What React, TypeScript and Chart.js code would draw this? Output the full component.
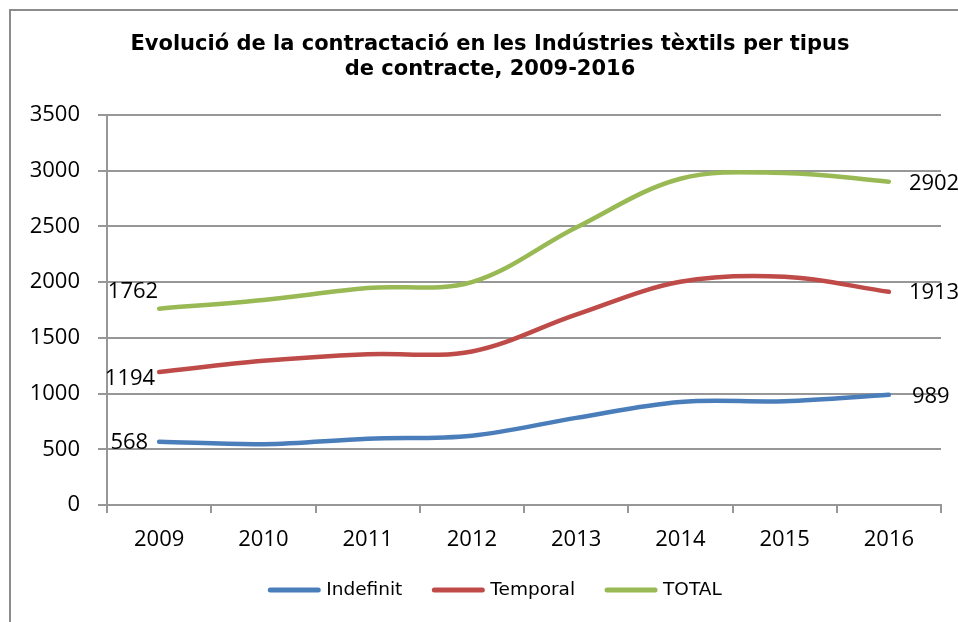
import React, { useEffect, useRef } from "react";
import { Chart, registerables } from "chart.js";

Chart.register(...registerables);

const categories = ["2009", "2010", "2011", "2012", "2013", "2014", "2015", "2016"];
const indefinit = [568, 546, 595, 622, 782, 925, 932, 989];
const temporal = [1194, 1294, 1353, 1378, 1708, 2003, 2048, 1913];
const total = [1762, 1840, 1948, 2000, 2490, 2928, 2980, 2902];
const seriesNames = ["Indefinit", "Temporal", "TOTAL"];
const seriesColors = ["#4A7EBB", "#BE4B48", "#98B954"];
const titleLines = [
  "Evolució de la contractació en les Indústries tèxtils per tipus",
  "de contracte, 2009-2016",
];
const yMin = 0;
const yMax = 3500;
const yStep = 500;

// label placement (style only): [startDx, startDy, endDx, endDy] per series
const labelOffsets = [
  [-11, 1, 23, 2],
  [-4, 7, 20, 1],
  [-1, -17, 20, 2],
];

const endLabelsPlugin = {
  id: "endLabels",
  afterDatasetsDraw(chart: any) {
    const ctx = chart.ctx;
    ctx.save();
    ctx.font = "22px 'Open Sans'";
    ctx.fillStyle = "#000";
    ctx.textBaseline = "middle";
    chart.data.datasets.forEach((ds: any, i: number) => {
      const meta = chart.getDatasetMeta(i);
      const first = meta.data[0];
      const last = meta.data[meta.data.length - 1];
      const off = labelOffsets[i];
      ctx.textAlign = "right";
      ctx.fillText(String(ds.data[0]), first.x + off[0], first.y + off[1]);
      ctx.textAlign = "left";
      ctx.fillText(String(ds.data[ds.data.length - 1]), last.x + off[2], last.y + off[3]);
    });
    ctx.restore();
  },
};

// chart title centred on the whole chart frame (as in the spreadsheet original)
const frameTitlePlugin = {
  id: "frameTitle",
  afterDraw(chart: any) {
    const ctx = chart.ctx;
    ctx.save();
    ctx.font = "bold 21px 'DejaVu Sans'";
    ctx.fillStyle = "#000";
    ctx.textAlign = "center";
    ctx.textBaseline = "middle";
    const cx = chart.width / 2;
    titleLines.forEach((line, i) => {
      ctx.fillText(line, cx, 45 + i * 25);
    });
    ctx.restore();
  },
};

// legend centred on the chart frame, built from the datasets
const frameLegendPlugin = {
  id: "frameLegend",
  afterDraw(chart: any) {
    const ctx = chart.ctx;
    ctx.save();
    ctx.font = "18.5px 'DejaVu Sans'";
    ctx.textBaseline = "middle";
    ctx.textAlign = "left";
    const lineLen = 52;
    const gapText = 6;
    const gapItem = 30;
    const items = chart.data.datasets.map((ds: any) => ({
      label: ds.label,
      color: ds.borderColor,
      width: ds.borderWidth,
      tw: ctx.measureText(ds.label).width,
    }));
    const total = items.reduce(
      (s: number, it: any, i: number) => s + lineLen + gapText + it.tw + (i ? gapItem : 0),
      0
    );
    let x = chart.width / 2 + 5 - total / 2;
    const y = 590;
    items.forEach((it: any) => {
      ctx.strokeStyle = it.color;
      ctx.lineWidth = it.width + 0.5;
      ctx.lineCap = "round";
      ctx.beginPath();
      ctx.moveTo(x + 2, y);
      ctx.lineTo(x + lineLen - 2, y);
      ctx.stroke();
      ctx.fillStyle = "#000";
      ctx.fillText(it.label, x + lineLen + gapText, y);
      x += lineLen + gapText + it.tw + gapItem;
    });
    ctx.restore();
  },
};

export default function App() {
  const ref = useRef<HTMLCanvasElement | null>(null);
  useEffect(() => {
    if (!ref.current) return;
    const gridColor = "#979797";
    const chart = new Chart(ref.current, {
      type: "line",
      data: {
        labels: categories,
        datasets: [indefinit, temporal, total].map((d, i) => ({
          label: seriesNames[i],
          data: d,
          borderColor: seriesColors[i],
          backgroundColor: seriesColors[i],
          borderWidth: 4.5,
          tension: 0.35,
          pointRadius: 0,
          pointHoverRadius: 0,
          fill: false,
          borderCapStyle: "round",
          borderJoinStyle: "round",
        })),
      },
      options: {
        responsive: false,
        animation: false,
        devicePixelRatio: 1,
        layout: { padding: { top: 115, left: 0, right: 39, bottom: 69.5 } },
        plugins: {
          title: { display: false },
          legend: { display: false },
          tooltip: { enabled: false },
        },
        scales: {
          x: {
            offset: true,
            afterFit: (s: any) => {
              s.height = 47.5;
            },
            grid: {
              display: true,
              drawOnChartArea: false,
              drawTicks: true,
              tickLength: 8,
              color: gridColor,
              lineWidth: 2,
              offset: true,
            },
            border: { display: true, color: gridColor, width: 2 },
            ticks: {
              color: "#000",
              padding: 14,
              font: { family: "'Open Sans'", size: 22 },
              maxRotation: 0,
            },
          },
          y: {
            min: yMin,
            max: yMax,
            afterFit: (s: any) => {
              s.width = 107;
            },
            grid: {
              color: gridColor,
              lineWidth: 2,
              drawTicks: true,
              tickLength: 9,
            },
            border: { display: true, color: gridColor, width: 2 },
            ticks: {
              stepSize: yStep,
              color: "#000",
              padding: 18,
              font: { family: "'Open Sans'", size: 22 },
              callback: (v: any) => String(v),
            },
          },
        },
      },
      plugins: [endLabelsPlugin, frameTitlePlugin, frameLegendPlugin],
    } as any);
    return () => chart.destroy();
  }, []);

  return (
    <div
      style={{
        position: "fixed",
        left: 0,
        top: 0,
        width: 958,
        height: 622,
        overflow: "hidden",
        background: "#fff",
      }}
    >
      <div
        style={{
          position: "absolute",
          left: 9,
          top: 9,
          width: 1200,
          height: 1000,
          border: "2px solid #8c8c8c",
          boxSizing: "border-box",
        }}
      />
      <canvas
        ref={ref}
        width={980}
        height={622}
        style={{ position: "absolute", left: 0, top: 0, width: 980, height: 622 }}
      />
    </div>
  );
}
